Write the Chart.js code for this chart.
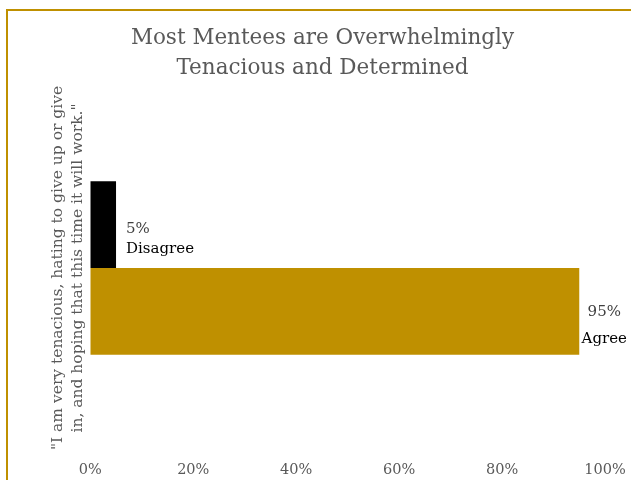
<!DOCTYPE html>
<html>
<head>
<meta charset="utf-8">
<script src="https://cdn.jsdelivr.net/npm/chart.js@4"></script>
<style>
  html, body { margin: 0; padding: 0; background: #fff; overflow: hidden; }
  #wrap { position: relative; width: 631px; height: 480px; }
  #frame {
    position: absolute; left: 6px; top: 9px; width: 700px; height: 600px;
    border-top: 2px solid #bf9000; border-left: 2px solid #bf9000;
  }
  canvas { position: absolute; left: 0; top: 0; }
</style>
</head>
<body>
<div id="wrap">
  <div id="frame"></div>
  <canvas id="chart" width="631" height="480"></canvas>
</div>
<script>
const categories = ["\"I am very tenacious, hating to give up or give in, and hoping that this time it will work.\""]
const seriesNames = ["Disagree", "Agree"]
const disagreeValues = [5]
const agreeValues = [95]
const seriesColors = ["#000000", "#bf9000"]
const tickValues = [0, 20, 40, 60, 80, 100]

const serif = "'DejaVu Serif', 'Liberation Serif', serif"

// value + name written beside the end of each bar
const barLabels = {
  id: "barLabels",
  afterDatasetsDraw(chart) {
    const ctx = chart.ctx
    ctx.save()
    ctx.font = "15px " + serif
    ctx.textBaseline = "middle"
    chart.data.datasets.forEach((ds, i) => {
      const meta = chart.getDatasetMeta(i)
      meta.data.forEach((bar, j) => {
        const value = ds.data[j]
        let x, align, y1, y2
        if (i === 0) {
          align = "left"
          x = bar.x + 10
          y1 = bar.y + 4
          y2 = bar.y + 24
        } else {
          align = "center"
          x = bar.x + 25
          y1 = bar.y + 1
          y2 = bar.y + 28
        }
        ctx.textAlign = align
        ctx.fillStyle = "#404040"
        ctx.fillText(value + "%", x, y1)
        ctx.fillStyle = "#000"
        ctx.fillText(ds.label, x, y2)
      })
    })
    ctx.restore()
  }
}

new Chart(document.getElementById("chart"), {
  type: "bar",
  data: {
    labels: categories,
    datasets: [
      { label: seriesNames[0], data: disagreeValues, backgroundColor: seriesColors[0] },
      { label: seriesNames[1], data: agreeValues, backgroundColor: seriesColors[1] }
    ]
  },
  options: {
    indexAxis: "y",
    responsive: false,
    animation: false,
    datasets: {
      bar: { categoryPercentage: 0.4745, barPercentage: 1 }
    },
    layout: { padding: { left: 40, right: 26, top: 12, bottom: -2 } },
    plugins: {
      legend: { display: false },
      tooltip: { enabled: false },
      title: {
        display: true,
        text: ["Most Mentees are Overwhelmingly", "Tenacious and Determined"],
        color: "#595959",
        font: { family: serif, size: 21.5, weight: "normal", lineHeight: 1.38 },
        padding: { top: 12, bottom: 2 }
      }
    },
    scales: {
      x: {
        min: 0,
        max: 100,
        afterBuildTicks: (axis) => { axis.ticks = tickValues.map(v => ({ value: v })) },
        grid: { display: false },
        border: { display: false },
        ticks: {
          color: "#595959",
          font: { family: serif, size: 14.5 },
          callback: (v) => v + "%"
        }
      },
      y: {
        grid: { display: false, drawTicks: false },
        border: { display: false },
        ticks: { display: false },
        title: {
          display: true,
          text: ["\"I am very tenacious, hating to give up or give", "in, and hoping that this time it will work.\""],
          color: "#595959",
          font: { family: serif, size: 15.5, lineHeight: 1.3 },
          padding: { top: 8, bottom: 2 }
        }
      }
    }
  },
  plugins: [barLabels]
})
</script>
</body>
</html>
